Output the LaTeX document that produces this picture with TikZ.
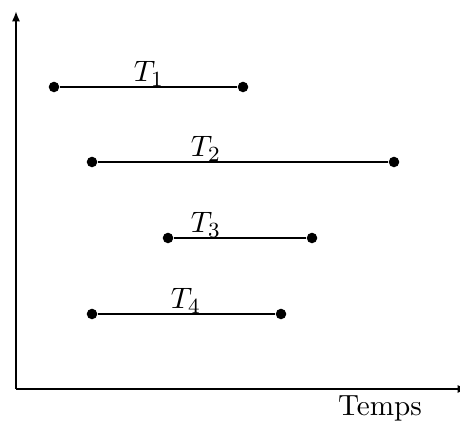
\documentclass[tikz,border=0pt]{standalone}
\usetikzlibrary{arrows.meta}
\begin{document}
\begin{tikzpicture}[x=0.37pt,y=-0.37pt,
  font=\fontsize{10.8}{13}\selectfont,
  axis/.style={line width=0.85pt,-{Latex[length=3.8pt,width=3pt]}},
  seg/.style={line width=0.85pt},
  dot/.style={circle,fill=black,inner sep=0pt,minimum size=3.9pt},
  lbl/.style={anchor=base,inner sep=0pt}]
\useasboundingbox (0,0) rectangle (460,422);
\coordinate (O) at (16,389);
\coordinate (ytop) at (16,11);
\coordinate (xend) at (468,389);
\draw[axis] (O) -- (ytop);
\draw[axis] (O) -- (xend);
\node[lbl] (temps) at (380,416) {Temps};
% T1
\node[dot] (a1) at (54,87) {};
\node[dot] (b1) at (243,87) {};
\draw[seg] (a1) -- (b1);
\node[lbl] (t1) at (149,82) {$T_1$};
% T2
\node[dot] (a2) at (92,162) {};
\node[dot] (b2) at (394,162) {};
\draw[seg] (a2) -- (b2);
\node[lbl] (t2) at (206,157) {$T_2$};
% T3
\node[dot] (a3) at (168,238) {};
\node[dot] (b3) at (312,238) {};
\draw[seg] (a3) -- (b3);
\node[lbl] (t3) at (206,233) {$T_3$};
% T4
\node[dot] (a4) at (92,314) {};
\node[dot] (b4) at (281,314) {};
\draw[seg] (a4) -- (b4);
\node[lbl] (t4) at (186,309) {$T_4$};
\end{tikzpicture}
\end{document}
